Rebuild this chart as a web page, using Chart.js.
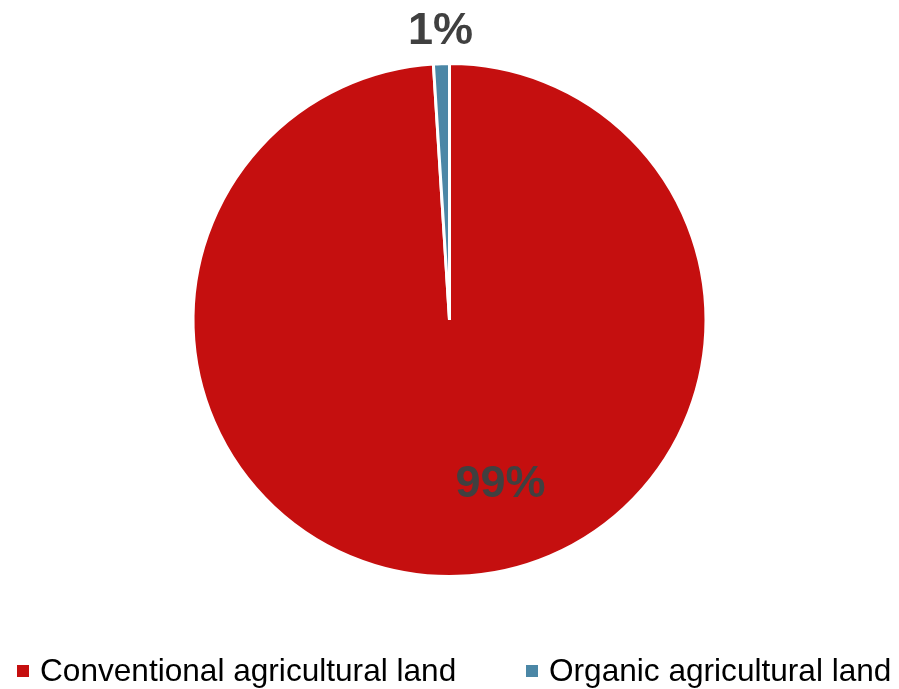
<!DOCTYPE html>
<html>
<head>
<meta charset="utf-8">
<script src="https://cdn.jsdelivr.net/npm/chart.js@4.4.1/dist/chart.umd.min.js"></script>
<style>
  body { margin: 0; background: #fff; }
  #wrap { position: relative; width: 899px; height: 689px; }
  .item { position: absolute; top: 655px; height: 31px; display: flex; align-items: center;
          font-family: "Liberation Sans", Arial, sans-serif; font-size: 31.6px; color: #000; white-space: nowrap; }
  .box { width: 12px; height: 12px; margin-right: 11px; }
</style>
</head>
<body>
<div id="wrap">
  <canvas id="chart"></canvas>
  <div id="legend"></div>
</div>
<script>
'use strict';

const categories = ['Conventional agricultural land', 'Organic agricultural land']
const shares = [99, 1]
const shareLabels = ['99%', '1%']
const colors = ['#c50f0f', '#4b87a6']

// where each percentage sits, relative to its slice
const labelSpots = [{ r: 0.67, shift: -0.27 }, { r: 1.125, shift: 0 }]
const legendLeft = [17, 526]

const sliceLabels = {
    id: 'sliceLabels',
    afterDatasetsDraw(chart) {
        const ctx = chart.ctx
        const arcs = chart.getDatasetMeta(0).data
        ctx.save()
        ctx.font = 'bold 45px "Liberation Sans", Arial, sans-serif'
        ctx.fillStyle = '#404040'
        ctx.textAlign = 'center'
        ctx.textBaseline = 'middle'
        arcs.forEach((arc, i) => {
            const p = arc.getProps(['x', 'y', 'startAngle', 'endAngle', 'outerRadius'], true)
            const mid = (p.startAngle + p.endAngle) / 2 + labelSpots[i].shift
            const rr = p.outerRadius * labelSpots[i].r
            ctx.fillText(shareLabels[i], p.x + Math.cos(mid) * rr, p.y + Math.sin(mid) * rr)
        })
        ctx.restore()
    }
}

const ctx = document.getElementById('chart').getContext('2d')
const chart = new Chart(ctx, {
    type: 'pie',
    data: {
        labels: categories,
        datasets: [{
            data: shares,
            backgroundColor: colors,
            borderColor: '#ffffff',
            borderWidth: 3,
            hoverOffset: 0
        }]
    },
    options: {
        responsive: true,
        maintainAspectRatio: false,
        animation: false,
        layout: { padding: { top: 62, bottom: 111, left: 0, right: 0 } },
        plugins: {
            legend: { display: false },
            tooltip: { enabled: false }
        }
    },
    plugins: [sliceLabels]
})

const legend = document.getElementById('legend')
categories.forEach((name, i) => {
    const item = document.createElement('div')
    item.className = 'item'
    item.style.left = legendLeft[i] + 'px'
    item.innerHTML = `<span class="box" style="background:${colors[i]}"></span><span>${name}</span>`
    legend.appendChild(item)
})
</script>
</body>
</html>
